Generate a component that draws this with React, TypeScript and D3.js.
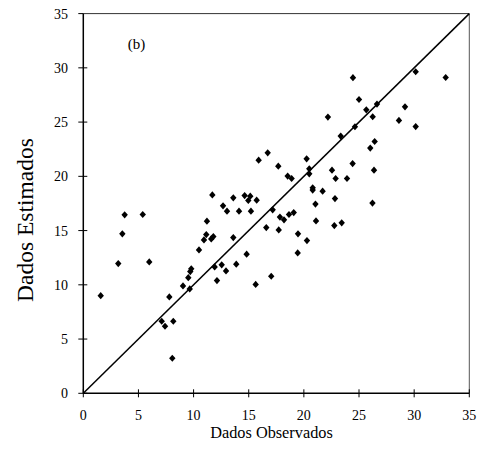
import React from "react";
import * as d3 from "d3";

const observed: number[] = [
  24.45, 30.14, 32.86, 25.0, 26.63, 25.66, 29.17, 26.24, 22.18, 28.62,
  30.14, 24.63, 23.34, 26.42, 26.02, 16.72, 15.9, 20.25, 17.68, 20.49,
  22.55, 24.42, 26.36, 20.49, 18.53, 18.89, 22.88, 23.91, 20.8, 20.8,
  21.7, 22.82, 21.05, 26.22, 11.7, 13.6, 14.63, 15.14, 14.96, 15.72,
  12.67, 3.75, 5.39, 3.54, 3.17, 5.98, 1.58, 13.03, 14.12, 15.2,
  17.17, 11.21, 11.15, 10.94, 11.6, 11.79, 13.6, 16.59, 10.49, 14.81,
  12.55, 11.91, 13.87, 12.94, 9.79, 9.7, 9.52, 12.12, 17.04, 15.63,
  9.04, 9.65, 7.8, 7.11, 8.16, 7.41, 8.07, 17.83, 18.2, 18.65,
  19.08, 21.1, 22.76, 23.43, 17.72, 19.47, 20.28, 19.44,
];
const estimated: number[] = [
  29.09, 29.64, 29.11, 27.08, 26.66, 26.13, 26.41, 25.49, 25.46, 25.15,
  24.59, 24.57, 23.71, 23.21, 22.6, 22.17, 21.49, 21.61, 20.94, 20.69,
  20.57, 21.18, 20.57, 20.23, 20.02, 19.8, 19.8, 19.8, 18.94, 18.73,
  18.63, 17.95, 17.44, 17.53, 18.29, 18.02, 18.23, 18.17, 17.77, 17.8,
  17.28, 16.45, 16.48, 14.7, 11.96, 12.11, 9.0, 16.79, 16.79, 16.79,
  16.91, 15.87, 14.63, 14.14, 14.23, 14.45, 14.35, 15.28, 13.22, 12.82,
  11.84, 11.65, 11.9, 11.28, 11.47, 11.22, 10.66, 10.39, 10.79, 10.04,
  9.9, 9.62, 8.88, 6.64, 6.64, 6.18, 3.23, 16.24, 15.99, 16.48,
  16.66, 15.89, 15.46, 15.71, 15.06, 14.7, 14.08, 12.94,
];
const tickValues: number[] = [0, 5, 10, 15, 20, 25, 30, 35];
const domainMax = 35;
const xTitle = "Dados Observados";
const yTitle = "Dados Estimados";
const panelLabel = "(b)";

export default function App() {
  const width = 477;
  const height = 455;
  const left = 83.3;
  const right = 469.3;
  const top = 13.6;
  const bottom = 393.3;
  const x = d3.scaleLinear().domain([0, domainMax]).range([left, right]);
  const y = d3.scaleLinear().domain([0, domainMax]).range([bottom, top]);
  const font = "'Liberation Serif', 'Times New Roman', serif";
  const diamond = (cx: number, cy: number) =>
    `M${cx},${cy - 3.6}L${cx + 3.2},${cy}L${cx},${cy + 3.6}L${cx - 3.2},${cy}Z`;
  const line = d3.line<number>().x((d) => x(d)).y((d) => y(d));

  return (
    <svg
      width={width}
      height={height}
      style={{ position: "absolute", left: 0, top: 0, background: "#fff", fontFamily: font }}
    >
      {/* frame top/right */}
      <line x1={left} x2={right} y1={top} y2={top} stroke="#333" strokeWidth={1} />
      <line x1={right} x2={right} y1={top} y2={bottom} stroke="#555" strokeWidth={1} />
      {/* diagonal */}
      <path d={line([0, domainMax]) || ""} stroke="#000" strokeWidth={1.5} fill="none" />
      {/* axes */}
      <line x1={left} x2={right} y1={bottom} y2={bottom} stroke="#000" strokeWidth={1.5} />
      <line x1={left} x2={left} y1={top} y2={bottom} stroke="#000" strokeWidth={1.5} />
      {tickValues.map((t) => (
        <g key={"x" + t}>
          <line x1={x(t)} x2={x(t)} y1={bottom - 4} y2={bottom + 4} stroke="#000" strokeWidth={1} />
          <text x={x(t)} y={bottom + 27} textAnchor="middle" fontSize={14} fontFamily={font}>
            {t}
          </text>
        </g>
      ))}
      {tickValues.map((t) => (
        <g key={"y" + t}>
          <line
            x1={left - 5}
            x2={t === domainMax ? left : left + 4}
            y1={y(t)}
            y2={y(t)}
            stroke="#000"
            strokeWidth={1}
          />
          <text x={68} y={y(t) + 5} textAnchor="end" fontSize={14} fontFamily={font}>
            {t}
          </text>
        </g>
      ))}
      {observed.map((o, i) => (
        <path key={i} d={diamond(x(o), y(estimated[i]))} fill="#000" />
      ))}
      <text x={136.5} y={49} textAnchor="middle" fontSize={15} fontFamily={font}>
        {panelLabel}
      </text>
      <text x={271.5} y={438} textAnchor="middle" fontSize={16.3} fontFamily={font}>
        {xTitle}
      </text>
      <text
        transform={`translate(33,220) rotate(-90)`}
        textAnchor="middle"
        fontSize={23.5}
        fontFamily={font}
      >
        {yTitle}
      </text>
    </svg>
  );
}
